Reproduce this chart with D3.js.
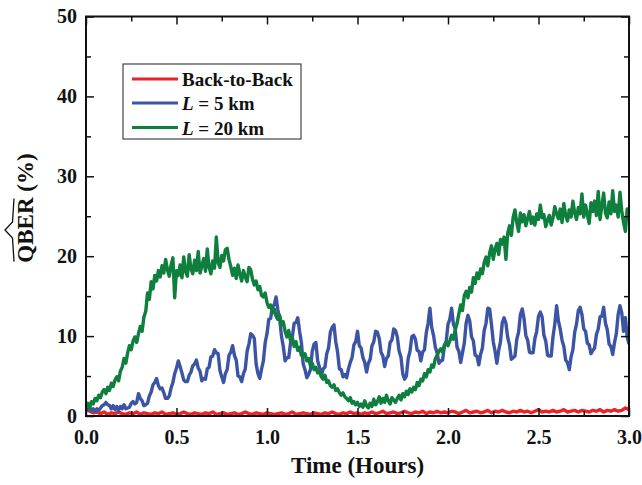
<!DOCTYPE html>
<html>
<head>
<meta charset="utf-8">
<script src="https://cdn.jsdelivr.net/npm/d3@7/dist/d3.min.js"></script>
<style>
  html, body { margin: 0; padding: 0; background: #fff; }
  svg { display: block; }
  text { font-family: "Liberation Serif", "Times New Roman", serif; font-weight: bold; fill: #111; }
</style>
</head>
<body>
<svg id="chart" width="642" height="485"></svg>
<script>
// ---------------- DATA ----------------
const seriesNames = ["Back-to-Back", "L = 5 km", "L = 20 km"];
const xTickLabels = ["0.0", "0.5", "1.0", "1.5", "2.0", "2.5", "3.0"];
const yTickLabels = ["0", "10", "20", "30", "40", "50"];

// Back-to-Back, sampled every 0.02 h from 0 to 3 h
const redStep = 0.02;
const redValues = [
  0.9,0.6,0.4,0.5,0.3,0.5,0.2,0.4,0.3,0.5,
  0.3,0.2,0.4,0.3,0.5,0.2,0.4,0.3,0.2,0.4,
  0.3,0.5,0.2,0.3,0.4,0.2,0.3,0.5,0.3,0.2,
  0.4,0.3,0.2,0.4,0.3,0.5,0.2,0.3,0.4,0.2,
  0.3,0.4,0.2,0.3,0.5,0.3,0.2,0.4,0.3,0.2,
  0.4,0.3,0.2,0.3,0.4,0.2,0.3,0.5,0.2,0.3,
  0.4,0.3,0.2,0.4,0.3,0.2,0.4,0.3,0.5,0.3,
  0.2,0.4,0.3,0.5,0.3,0.4,0.2,0.4,0.3,0.5,
  0.3,0.4,0.6,0.3,0.4,0.5,0.3,0.4,0.6,0.4,
  0.3,0.5,0.4,0.6,0.3,0.5,0.4,0.6,0.4,0.5,
  0.4,0.6,0.5,0.3,0.5,0.7,0.4,0.5,0.6,0.4,
  0.5,0.7,0.4,0.6,0.5,0.7,0.5,0.4,0.6,0.5,
  0.7,0.5,0.6,0.4,0.6,0.8,0.5,0.6,0.5,0.7,
  0.5,0.6,0.8,0.5,0.6,0.7,0.5,0.7,0.6,0.5,
  0.7,0.6,0.8,0.5,0.7,0.6,0.8,0.6,0.7,1.0,
  0.8
];

// L = 5 km, sampled every 0.01 h from 0 to 3 h
const blueStep = 0.01;
const blueValues = [
  1.0,
  0.8,1.1,0.7,0.9,0.6,0.9,0.7,1.0,1.3,1.4,
  1.7,1.4,1.3,0.9,1.3,0.8,1.2,0.7,1.2,0.9,
  1.4,0.9,1.0,1.1,1.6,1.8,1.5,1.7,2.8,2.2,
  1.9,1.3,1.4,1.6,2.5,3.0,3.9,4.2,4.7,3.8,
  3.4,3.5,2.9,2.2,2.2,2.5,3.5,4.2,5.3,6.0,
  6.9,6.2,5.4,4.5,4.3,4.3,5.1,5.5,6.3,6.5,
  7.0,6.0,5.6,4.4,4.7,4.6,5.9,6.1,7.4,7.5,
  8.3,7.9,7.8,5.7,4.9,4.2,5.3,5.8,7.6,8.0,
  8.8,7.6,7.0,5.0,4.9,4.3,5.3,5.9,8.1,9.0,
  10.3,10.1,9.7,6.5,5.3,4.7,5.9,6.9,9.2,10.3,
  12.1,12.2,13.7,13.9,14.9,13.3,12.2,10.0,8.7,6.9,
  7.3,7.3,9.1,9.9,11.6,11.7,12.3,10.6,9.2,6.5,
  5.8,4.8,5.2,5.8,8.1,9.0,9.2,6.9,6.1,5.0,
  5.9,6.1,7.8,8.5,10.5,11.1,11.4,9.3,8.0,5.9,
  5.8,4.9,5.2,4.8,5.9,6.7,7.3,8.9,9.3,10.6,
  8.8,8.5,7.3,6.7,5.5,6.6,7.1,8.8,9.3,10.6,
  10.5,9.7,8.0,7.5,6.2,7.2,7.5,9.2,9.5,10.9,
  10.7,9.9,8.1,7.4,5.3,4.6,5.0,7.2,8.1,9.9,
  10.1,9.6,8.2,8.1,6.9,8.0,8.3,10.4,11.6,13.5,
  11.1,10.1,8.6,7.9,6.6,6.9,7.0,8.7,9.3,11.5,
  12.1,13.5,11.5,10.9,8.6,8.1,6.7,7.9,9.1,11.6,
  12.6,11.9,9.9,9.4,7.6,7.5,6.4,7.7,8.5,10.7,
  11.6,13.5,13.4,11.5,9.3,8.1,6.6,8.2,9.3,11.7,
  12.3,11.6,9.8,8.9,7.1,7.3,7.5,9.6,10.5,12.7,
  13.4,12.2,10.1,9.5,8.0,7.9,7.9,9.7,10.6,12.5,
  13.0,12.4,10.1,9.4,7.6,7.5,7.5,9.9,11.5,13.8,
  11.9,10.9,9.5,8.7,7.0,6.7,5.8,7.4,8.3,10.5,
  11.5,13.2,13.6,12.7,10.9,10.6,9.1,8.9,7.8,8.2,
  8.5,10.2,10.9,12.4,12.5,13.6,11.6,10.8,9.0,8.7,
  7.7,9.2,10.3,12.7,13.8,12.9,10.6,12.3,9.9,9.0
];

// L = 20 km, sampled every 0.01 h from 0 to 3 h
const greenStep = 0.01;
const greenValues = [
  1.2,
  1.6,1.0,1.8,1.5,2.2,1.9,2.6,2.3,3.0,3.3,
  2.8,3.6,3.2,4.1,3.7,4.5,4.9,4.4,5.6,6.1,
  7.2,6.6,7.9,8.8,8.3,9.4,9.9,9.2,10.3,11.2,
  10.6,12.4,13.1,15.4,14.6,16.8,15.9,17.6,16.9,18.2,
  17.4,18.8,17.9,19.6,18.3,17.5,18.9,19.8,14.8,18.2,
  17.6,18.9,17.3,19.9,18.1,17.5,20.2,18.4,17.8,19.5,
  18.2,20.6,17.9,18.8,19.7,18.1,20.9,18.6,17.8,19.4,
  18.5,22.4,19.2,18.6,20.1,19.4,20.8,21.0,19.6,18.7,
  17.6,18.5,17.2,18.9,17.8,16.9,18.2,17.4,16.8,18.6,
  18.3,17.1,16.4,16.9,15.8,16.2,15.1,14.9,15.4,14.2,
  13.6,13.9,12.9,13.4,12.5,12.1,12.6,11.4,11.8,10.6,
  9.9,10.7,9.4,9.8,8.7,9.3,8.2,8.6,7.6,7.4,
  7.8,6.9,7.2,6.3,6.6,5.8,6.1,5.4,5.6,4.9,
  4.6,5.1,4.2,4.4,3.8,3.6,3.9,3.2,3.4,2.9,
  2.6,2.9,2.4,2.2,1.9,2.3,1.6,1.8,1.4,1.7,
  1.2,1.5,1.1,1.9,1.3,1.0,1.6,1.2,2.1,1.4,
  1.8,2.4,1.6,2.2,1.7,2.6,1.9,1.5,2.3,2.0,
  1.7,2.2,2.6,2.0,2.8,2.4,3.1,2.7,3.4,3.0,
  3.6,3.3,4.2,3.8,4.6,4.4,5.3,4.9,5.8,5.5,
  6.4,6.1,7.2,7.6,8.1,8.4,8.0,8.9,9.2,8.8,
  9.4,10.1,9.6,10.8,11.6,12.8,13.9,13.2,15.1,15.6,
  14.8,16.1,15.5,17.3,16.6,17.9,17.2,18.4,17.8,19.2,
  19.9,18.8,20.4,21.3,19.6,20.9,21.6,20.2,22.1,21.5,
  22.4,19.6,22.9,23.8,22.6,24.9,25.8,24.2,23.1,25.4,
  24.3,25.2,23.8,24.7,25.6,24.1,24.9,23.9,25.3,24.6,
  26.4,24.8,25.2,23.7,24.5,25.1,23.9,24.8,26.2,25.3,
  24.7,25.9,24.2,26.6,25.1,24.4,25.8,24.9,26.9,25.4,
  24.6,26.1,25.3,27.8,24.9,26.4,25.2,24.1,26.7,25.6,
  26.9,25.1,28.1,24.6,26.3,27.9,25.4,24.8,26.8,25.3,
  28.2,25.6,26.4,24.9,28.0,25.7,24.2,23.1,25.9,25.2
];

const colors = ["#ec2227", "#3b55a4", "#0f7f3d"];

// ---------------- CHART ----------------
const svg = d3.select("#chart");
const L = 86, R = 629, T = 16.5, B = 416;

const x = d3.scaleLinear().domain([0, 3]).range([L, R]);
const y = d3.scaleLinear().domain([0, 50]).range([B, T]);

const toPoints = (vals, step) => vals.map((v, i) => [i * step, v]);
const series = [
  toPoints(redValues, redStep),
  toPoints(blueValues, blueStep),
  toPoints(greenValues, greenStep)
];

const line = d3.line().x(d => x(d[0])).y(d => y(d[1]));

svg.append("clipPath").attr("id", "clip")
  .append("rect").attr("x", L).attr("y", T).attr("width", R - L).attr("height", B - T);

const gLines = svg.append("g").attr("clip-path", "url(#clip)");
series.forEach((s, i) => {
  gLines.append("path")
    .datum(s)
    .attr("fill", "none")
    .attr("stroke", colors[i])
    .attr("stroke-width", 3.4)
    .attr("stroke-linejoin", "round")
    .attr("d", line);
});

// axes: major ticks inward with labels, minor ticks inward
const xMajor = xTickLabels.map(Number);
const yMajor = yTickLabels.map(Number);
const xMinor = d3.range(0.25, 3, 0.5);
const yMinor = d3.range(5, 50, 10);

function styleAxis(g) {
  g.selectAll(".domain").remove();
  g.selectAll("line").attr("stroke", "#111").attr("stroke-width", 1.5);
  g.selectAll("text").attr("font-size", 20).attr("font-family", "Liberation Serif, Times New Roman, serif").attr("font-weight", "bold").attr("fill", "#111");
}

// bottom
svg.append("g").attr("transform", `translate(0,${B})`)
  .call(d3.axisBottom(x).tickValues(xMajor).tickSize(-8).tickPadding(14).tickFormat((d, i) => xTickLabels[i]))
  .call(styleAxis);
svg.append("g").attr("transform", `translate(0,${B})`)
  .call(d3.axisBottom(x).tickValues(xMinor).tickSize(-5).tickFormat(""))
  .call(styleAxis);
// top
svg.append("g").attr("transform", `translate(0,${T})`)
  .call(d3.axisTop(x).tickValues(xMajor).tickSize(-8).tickFormat(""))
  .call(styleAxis);
svg.append("g").attr("transform", `translate(0,${T})`)
  .call(d3.axisTop(x).tickValues(xMinor).tickSize(-5).tickFormat(""))
  .call(styleAxis);
// left
svg.append("g").attr("transform", `translate(${L},0)`)
  .call(d3.axisLeft(y).tickValues(yMajor).tickSize(-8).tickPadding(9).tickFormat((d, i) => yTickLabels[i]))
  .call(styleAxis);
svg.append("g").attr("transform", `translate(${L},0)`)
  .call(d3.axisLeft(y).tickValues(yMinor).tickSize(-5).tickFormat(""))
  .call(styleAxis);
// right
svg.append("g").attr("transform", `translate(${R},0)`)
  .call(d3.axisRight(y).tickValues(yMajor).tickSize(-8).tickFormat(""))
  .call(styleAxis);
svg.append("g").attr("transform", `translate(${R},0)`)
  .call(d3.axisRight(y).tickValues(yMinor).tickSize(-5).tickFormat(""))
  .call(styleAxis);

// frame
svg.append("rect")
  .attr("x", L).attr("y", T).attr("width", R - L).attr("height", B - T)
  .attr("fill", "none").attr("stroke", "#111").attr("stroke-width", 2);

// axis titles
svg.append("text")
  .attr("x", (L + R) / 2).attr("y", 473)
  .attr("text-anchor", "middle").attr("font-size", 23)
  .text("Time (Hours)");

const yt = svg.append("g").attr("transform", "translate(33,208) rotate(-90)");
const ytext = yt.append("text").attr("text-anchor", "middle").attr("font-size", 23);
ytext.append("tspan").text("QBER");
ytext.append("tspan").text(" (%)");
// wide hat over QBER
let qx0 = -55, qx1 = 10;
try {
  qx0 = ytext.node().getStartPositionOfChar(0).x;
  qx1 = ytext.node().getEndPositionOfChar(3).x;
} catch (e) {}
const qm = (qx0 + qx1) / 2;
yt.append("path")
  .attr("d", `M${qx0 + 1},-19 L${qm - 8},-20.5 L${qm},-28 L${qm + 8},-20.5 L${qx1 - 1},-19`)
  .attr("fill", "none").attr("stroke", "#111").attr("stroke-width", 1.3);

// legend
const lg = svg.append("g");
lg.append("rect").attr("x", 123).attr("y", 64).attr("width", 178).attr("height", 75)
  .attr("fill", "#fff").attr("stroke", "#444").attr("stroke-width", 1.2);
const rowsY = [79, 103, 127.5];
seriesNames.forEach((name, i) => {
  lg.append("line").attr("x1", 132).attr("x2", 178).attr("y1", rowsY[i]).attr("y2", rowsY[i])
    .attr("stroke", colors[i]).attr("stroke-width", 3);
  const t = lg.append("text").attr("x", 182).attr("y", rowsY[i] + 7).attr("font-size", 19);
  if (name.startsWith("L")) {
    t.append("tspan").attr("font-style", "italic").text("L");
    t.append("tspan").text(name.slice(1));
  } else {
    t.text(name);
  }
});
</script>
</body>
</html>
